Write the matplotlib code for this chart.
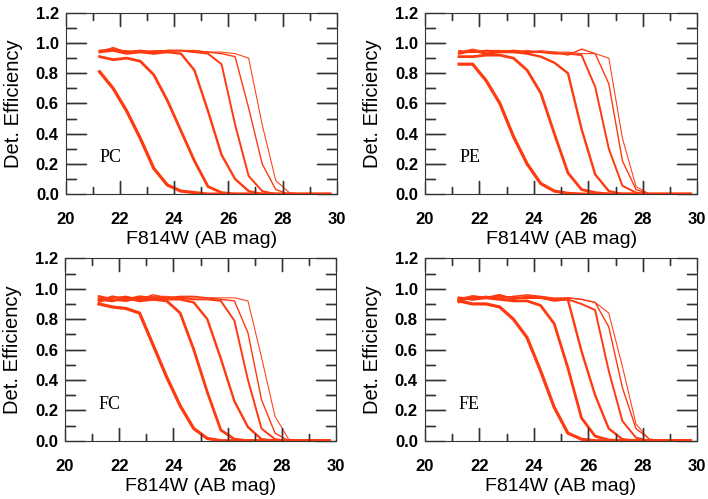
import numpy as np
import matplotlib
matplotlib.use("Agg")
import matplotlib.pyplot as plt
import matplotlib.transforms as mtransforms
from matplotlib.ticker import MultipleLocator, FormatStrFormatter

# magnitude grid shared by all curves
mag = [21.25, 21.75, 22.25, 22.75, 23.25, 23.75, 24.25, 24.75, 25.25,
       25.75, 26.25, 26.75, 27.25, 27.75, 28.25, 28.75, 29.25, 29.75]

panel_names = ["PC", "PE", "FC", "FE"]

# detection efficiency, brightest-cutoff curve first
pc_eff = [
    [0.81, 0.70, 0.55, 0.37, 0.17, 0.06, 0.02, 0.01, 0, 0, 0, 0, 0, 0, 0, 0, 0, 0],
    [0.91, 0.89, 0.90, 0.88, 0.79, 0.62, 0.42, 0.22, 0.05, 0.01, 0, 0, 0, 0, 0, 0, 0, 0],
    [0.94, 0.95, 0.93, 0.94, 0.93, 0.94, 0.93, 0.82, 0.55, 0.26, 0.10, 0.02, 0, 0, 0, 0, 0, 0],
    [0.95, 0.96, 0.94, 0.95, 0.94, 0.95, 0.95, 0.94, 0.93, 0.86, 0.46, 0.12, 0.02, 0, 0, 0, 0, 0],
    [0.94, 0.97, 0.94, 0.95, 0.94, 0.95, 0.95, 0.95, 0.94, 0.93, 0.91, 0.57, 0.20, 0.03, 0, 0, 0, 0],
    [0.95, 0.95, 0.95, 0.94, 0.95, 0.95, 0.95, 0.95, 0.94, 0.94, 0.93, 0.90, 0.46, 0.09, 0.01, 0, 0, 0],
]
pe_eff = [
    [0.86, 0.86, 0.75, 0.60, 0.38, 0.20, 0.07, 0.02, 0.005, 0, 0, 0, 0, 0, 0, 0, 0, 0],
    [0.91, 0.91, 0.92, 0.92, 0.90, 0.82, 0.67, 0.40, 0.14, 0.03, 0.01, 0, 0, 0, 0, 0, 0, 0],
    [0.93, 0.95, 0.93, 0.94, 0.94, 0.93, 0.91, 0.87, 0.80, 0.43, 0.13, 0.02, 0, 0, 0, 0, 0, 0],
    [0.94, 0.94, 0.95, 0.94, 0.95, 0.94, 0.94, 0.93, 0.93, 0.92, 0.71, 0.30, 0.055, 0.01, 0, 0, 0, 0],
    [0.95, 0.94, 0.95, 0.95, 0.94, 0.95, 0.94, 0.94, 0.92, 0.96, 0.93, 0.73, 0.22, 0.03, 0, 0, 0, 0],
    [0.94, 0.96, 0.94, 0.95, 0.95, 0.94, 0.95, 0.94, 0.94, 0.93, 0.93, 0.90, 0.37, 0.05, 0, 0, 0, 0],
]
fc_eff = [
    [0.90, 0.88, 0.87, 0.84, 0.63, 0.42, 0.23, 0.08, 0.015, 0, 0, 0, 0, 0, 0, 0, 0, 0],
    [0.93, 0.92, 0.94, 0.92, 0.93, 0.92, 0.84, 0.60, 0.32, 0.07, 0.01, 0, 0, 0, 0, 0, 0, 0],
    [0.95, 0.93, 0.92, 0.94, 0.93, 0.93, 0.93, 0.91, 0.80, 0.54, 0.26, 0.09, 0.01, 0, 0, 0, 0, 0],
    [0.92, 0.95, 0.93, 0.95, 0.94, 0.94, 0.94, 0.93, 0.93, 0.92, 0.79, 0.40, 0.08, 0.01, 0, 0, 0, 0],
    [0.91, 0.94, 0.95, 0.93, 0.96, 0.94, 0.95, 0.95, 0.94, 0.93, 0.92, 0.71, 0.27, 0.05, 0, 0, 0, 0],
    [0.94, 0.92, 0.94, 0.93, 0.95, 0.95, 0.94, 0.94, 0.94, 0.94, 0.94, 0.92, 0.55, 0.16, 0.01, 0, 0, 0],
]
fe_eff = [
    [0.92, 0.90, 0.90, 0.88, 0.80, 0.68, 0.46, 0.22, 0.05, 0.01, 0, 0, 0, 0, 0, 0, 0, 0],
    [0.94, 0.93, 0.94, 0.93, 0.92, 0.92, 0.89, 0.77, 0.48, 0.15, 0.03, 0.005, 0, 0, 0, 0, 0, 0],
    [0.93, 0.95, 0.94, 0.95, 0.94, 0.94, 0.94, 0.93, 0.93, 0.59, 0.30, 0.08, 0.01, 0, 0, 0, 0, 0],
    [0.91, 0.95, 0.94, 0.96, 0.93, 0.95, 0.94, 0.92, 0.93, 0.90, 0.86, 0.46, 0.13, 0.02, 0, 0, 0, 0],
    [0.93, 0.94, 0.95, 0.93, 0.95, 0.96, 0.95, 0.93, 0.94, 0.93, 0.91, 0.75, 0.35, 0.08, 0.01, 0, 0, 0],
    [0.93, 0.94, 0.95, 0.94, 0.95, 0.94, 0.95, 0.94, 0.94, 0.93, 0.91, 0.84, 0.49, 0.11, 0.005, 0, 0, 0],
]
panel_data = [pc_eff, pe_eff, fc_eff, fe_eff]

line_color = "#ff3a10"
widths = [2.3, 2.0, 1.7, 1.4, 1.0, 0.75]
axis_color = "#333333"

# axes boxes in figure fractions (left, bottom, width, height)
boxes = [
    (0.0928, 0.611, 0.3828, 0.3633),
    (0.6003, 0.611, 0.3846, 0.3633),
    (0.0918, 0.1168, 0.3828, 0.3655),
    (0.5999, 0.1168, 0.3850, 0.3655),
]


def idl_ticks(ax):
    # inward tick marks on all four sides, long at labelled values
    tx = mtransforms.blended_transform_factory(ax.transData, ax.transAxes)
    ty = mtransforms.blended_transform_factory(ax.transAxes, ax.transData)
    for x in np.arange(21, 30, 1):
        ln = 0.072 if x % 2 == 0 else 0.038
        ax.plot([x, x], [0, ln], transform=tx, color=axis_color, lw=1.0, zorder=3)
        ax.plot([x, x], [1, 1 - ln], transform=tx, color=axis_color, lw=1.0, zorder=3)
    for k in range(1, 12):
        ln = 0.074 if k % 2 == 0 else 0.037
        y = k / 10
        ax.plot([0, ln], [y, y], transform=ty, color=axis_color, lw=1.0, zorder=3)
        ax.plot([1, 1 - ln], [y, y], transform=ty, color=axis_color, lw=1.0, zorder=3)


fig = plt.figure(figsize=(7.08, 4.99), dpi=100)

for name, curves, box in zip(panel_names, panel_data, boxes):
    ax = fig.add_axes(box)
    for eff, lw in zip(curves, widths):
        ax.plot(mag, eff, color=line_color, lw=lw)

    idl_ticks(ax)
    ax.set_xlim(20, 30)
    ax.set_ylim(0, 1.2)
    ax.xaxis.set_major_locator(MultipleLocator(2))
    ax.xaxis.set_minor_locator(MultipleLocator(1))
    ax.yaxis.set_major_locator(MultipleLocator(0.2))
    ax.yaxis.set_minor_locator(MultipleLocator(0.1))
    ax.yaxis.set_major_formatter(FormatStrFormatter("%.1f"))

    ax.tick_params(which="both", direction="in", top=True, right=True,
                   color=axis_color, width=1.0, labelsize=12)
    ax.tick_params(axis="x", which="major", length=9.5, pad=13)
    ax.tick_params(axis="x", which="minor", length=5)
    ax.tick_params(axis="y", which="major", length=14.5, pad=5)
    ax.tick_params(axis="y", which="minor", length=7.2)
    for lab in ax.get_xticklabels() + ax.get_yticklabels():
        lab.set_family(["Liberation Sans", "DejaVu Sans"])
        lab.set_fontweight("bold")
    for sp in ax.spines.values():
        sp.set_color(axis_color)

    ax.set_xlabel("F814W (AB mag)", fontsize=14, family="Liberation Sans", labelpad=3)
    ax.set_ylabel("Det. Efficiency", fontsize=14.5, family="Liberation Sans", labelpad=9)
    ax.text(21.25, 0.21, name, fontsize=13, family="Liberation Serif",
            ha="left", va="baseline")

fig.savefig("out.png", dpi=100)
